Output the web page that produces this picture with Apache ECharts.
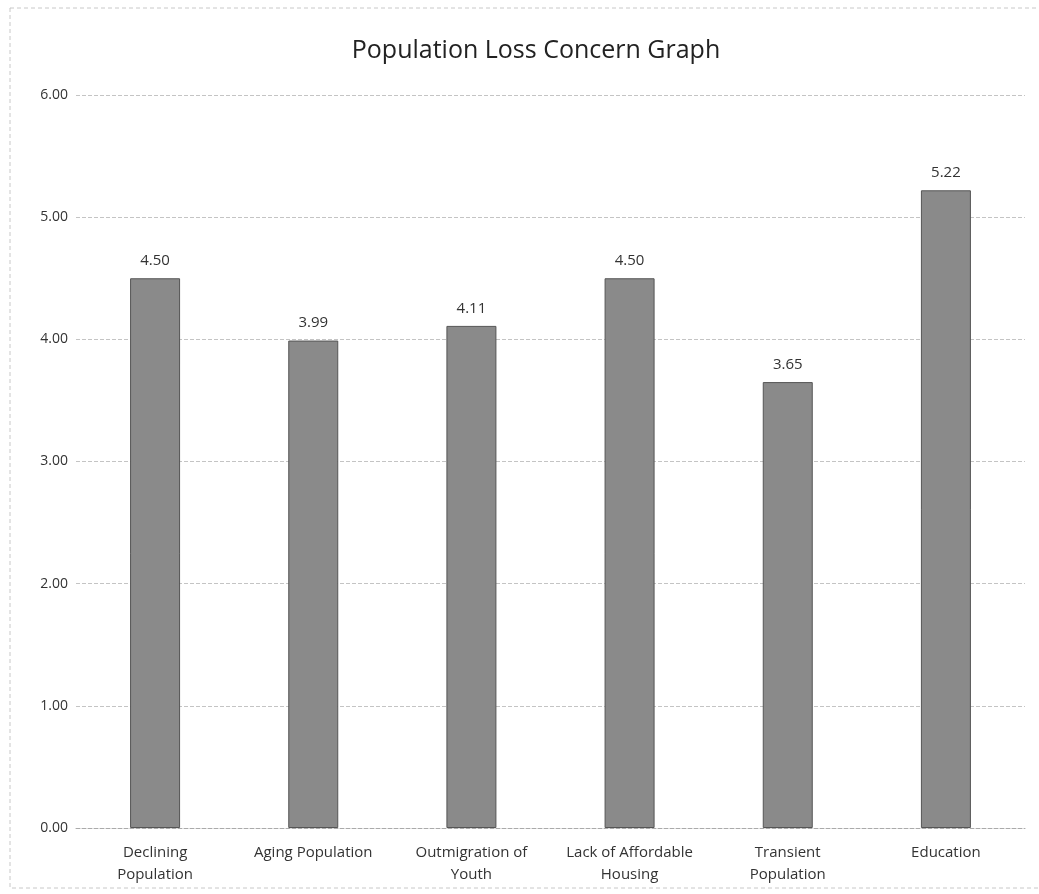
<!DOCTYPE html>
<html>
<head>
<meta charset="utf-8">
<script src="https://cdn.jsdelivr.net/npm/echarts@6/dist/echarts.min.js"></script>
<style>
  html, body { margin: 0; padding: 0; background: #fff; }
  #chart { width: 1039px; height: 894px; }
</style>
</head>
<body>
<div id="chart"></div>
<script>
const categories = [
  'Declining\nPopulation',
  'Aging Population',
  'Outmigration of\nYouth',
  'Lack of Affordable\nHousing',
  'Transient\nPopulation',
  'Education'
]
const concernScores = [4.50, 3.99, 4.11, 4.50, 3.65, 5.22]

const chart = echarts.init(document.getElementById('chart'))

chart.setOption({
  backgroundColor: '#fff',
  // faint scanned chart frame
  graphic: [{
    type: 'rect',
    shape: { x: 10, y: 8, width: 1040, height: 880 },
    style: { fill: 'none', stroke: '#c8c8c8', lineWidth: 1, lineDash: [4, 3] },
    silent: true
  }],
  title: {
    text: 'Population Loss Concern Graph',
    left: 531,
    textAlign: 'center',
    top: 33,
    textStyle: {
      fontFamily: 'Open Sans',
      fontSize: 25,
      fontWeight: 'normal',
      color: '#222'
    }
  },
  grid: {
    top: 95,
    left: 76,
    right: 14,
    bottom: 66
  },
  xAxis: {
    type: 'category',
    data: categories,
    axisLine: { lineStyle: { color: '#aaa', type: 'dashed' } },
    axisTick: { show: false },
    axisLabel: {
      margin: 14,
      interval: 0,
      fontFamily: 'Open Sans',
      fontSize: 15,
      lineHeight: 22,
      color: '#333'
    }
  },
  yAxis: {
    type: 'value',
    min: 0,
    max: 6,
    interval: 1,
    axisLine: { show: false },
    axisTick: { show: false },
    axisLabel: {
      margin: 8,
      formatter: v => v.toFixed(2),
      fontFamily: 'Open Sans',
      fontSize: 14,
      color: '#333'
    },
    splitLine: { lineStyle: { color: '#c4c4c4', type: 'dashed' } }
  },
  series: [{
    type: 'bar',
    data: concernScores,
    barWidth: 50,
    itemStyle: {
      color: '#8a8a8a',
      borderColor: '#555',
      borderWidth: 1
    },
    label: {
      show: true,
      position: 'top',
      distance: 10,
      formatter: p => p.value.toFixed(2),
      fontFamily: 'Open Sans',
      fontSize: 15,
      color: '#333'
    }
  }]
})
</script>
</body>
</html>
